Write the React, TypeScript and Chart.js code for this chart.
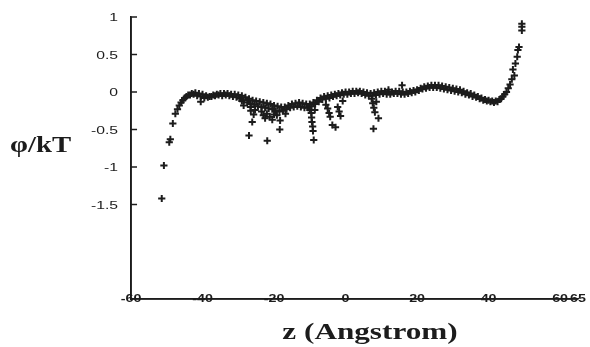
import React, { useEffect, useRef } from "react";
import { Chart, registerables } from "chart.js";

Chart.register(...registerables);

// Main band of potential values (z in Angstrom, phi/kT)
const bandUpper: [number, number][] = [
  [-51.4, -1.42], [-50.8, -0.98], [-49.3, -0.67], [-49.0, -0.63], [-48.3, -0.42], [-47.6, -0.29],
  [-47.0, -0.23], [-46.5, -0.18], [-46.0, -0.14], [-45.5, -0.11], [-45.0, -0.08], [-44.5, -0.06],
  [-44, -0.04], [-43, -0.02], [-42, -0.01], [-41, -0.02], [-40, -0.03], [-39, -0.05], [-38, -0.06],
  [-37, -0.04], [-36, -0.03], [-35, -0.02], [-34, -0.02], [-33, -0.02], [-32, -0.03], [-31, -0.03],
  [-30, -0.04], [-29, -0.05], [-28, -0.07], [-27, -0.09], [-26, -0.11], [-25, -0.12], [-24, -0.13],
  [-23, -0.14], [-22, -0.15], [-21, -0.16], [-20, -0.18], [-19, -0.19], [-18, -0.2], [-17, -0.2],
  [-16, -0.18], [-15, -0.16], [-14, -0.15], [-13, -0.14], [-12, -0.15], [-11, -0.16], [-10, -0.16],
  [-9, -0.14], [-8, -0.11], [-7, -0.08], [-6, -0.06], [-5, -0.05], [-4, -0.04], [-3, -0.03],
  [-2, -0.02], [-1, -0.01], [0, 0.0], [1, 0.0], [2, 0.01], [3, 0.01], [4, 0.01], [5, 0.0],
  [6, -0.01], [7, -0.02], [8, -0.01], [9, 0.0], [10, 0.01], [11, 0.01], [12, 0.0], [13, 0.0],
  [14, 0.01], [15, 0.01], [16, 0.0], [17, 0.0], [18, 0.01], [19, 0.02], [20, 0.03], [21, 0.05],
  [22, 0.07], [23, 0.08], [24, 0.09], [25, 0.09], [26, 0.09], [27, 0.08], [28, 0.07], [29, 0.06],
  [30, 0.05], [31, 0.04], [32, 0.03], [33, 0.01], [34, -0.01], [35, -0.02], [36, -0.04], [37, -0.06],
  [38, -0.08], [39, -0.1], [40, -0.11], [41, -0.12], [42, -0.12], [43, -0.1], [44, -0.06],
  [44.5, -0.03], [45, 0.0], [45.5, 0.05], [46, 0.1], [46.5, 0.17], [46.8, 0.3], [47.2, 0.22],
  [47.5, 0.38], [48, 0.47], [48.2, 0.56], [48.5, 0.6], [49.3, 0.82], [49.3, 0.87], [49.3, 0.91],
];

const bandLower: [number, number][] = [
  [-43.5, -0.04], [-42.5, -0.03], [-41.5, -0.05], [-40.5, -0.06], [-39.5, -0.08], [-38.5, -0.07],
  [-37.5, -0.06], [-36.5, -0.05], [-35.5, -0.04], [-34.5, -0.05], [-33.5, -0.04], [-32.5, -0.05],
  [-31.5, -0.06], [-30.5, -0.07], [-29.5, -0.09], [-28.5, -0.11], [-27.5, -0.14], [-26.5, -0.16],
  [-25.5, -0.17], [-24.5, -0.19], [-23.5, -0.2], [-22.5, -0.21], [-21.5, -0.22], [-20.5, -0.23],
  [-19.5, -0.25], [-18.5, -0.26], [-17.5, -0.25], [-16.5, -0.23], [-15.5, -0.21], [-14.5, -0.2],
  [-13.5, -0.19], [-12.5, -0.2], [-11.5, -0.21], [-10.5, -0.21], [-9.5, -0.19], [-8.5, -0.16],
  [-7.5, -0.13], [-6.5, -0.1], [-5.5, -0.09], [-4.5, -0.08], [-3.5, -0.06], [-2.5, -0.05],
  [-1.5, -0.04], [-0.5, -0.03], [0.5, -0.03], [1.5, -0.02], [2.5, -0.02], [3.5, -0.01],
  [4.5, -0.02], [5.5, -0.04], [6.5, -0.05], [7.5, -0.05], [8.5, -0.04], [9.5, -0.03],
  [10.5, -0.02], [11.5, -0.03], [12.5, -0.03], [13.5, -0.02], [14.5, -0.02], [15.5, -0.03],
  [16.5, -0.03], [17.5, -0.02], [18.5, -0.01], [19.5, 0.0], [20.5, 0.02], [21.5, 0.04],
  [22.5, 0.05], [23.5, 0.06], [24.5, 0.06], [25.5, 0.06], [26.5, 0.05], [27.5, 0.04],
  [28.5, 0.03], [29.5, 0.02], [30.5, 0.01], [31.5, 0.0], [32.5, -0.01], [33.5, -0.03],
  [34.5, -0.04], [35.5, -0.06], [36.5, -0.07], [37.5, -0.09], [38.5, -0.11], [39.5, -0.12],
  [40.5, -0.13], [41.5, -0.14], [42.5, -0.13], [43.5, -0.09],
];

const outliers: [number, number][] = [
  [-40.5, -0.13], [-29, -0.12], [-28.5, -0.18], [-27, -0.58], [-26.6, -0.2], [-26.5, -0.25],
  [-26.1, -0.4], [-25.7, -0.3], [-25.3, -0.24], [-23.5, -0.26], [-23, -0.31], [-22.5, -0.35],
  [-22, -0.29], [-21.9, -0.65], [-21.2, -0.33], [-20.5, -0.37], [-20, -0.3], [-19.2, -0.31],
  [-18.4, -0.5], [-18.3, -0.38], [-16.8, -0.29], [-10, -0.24], [-9.6, -0.28], [-9.5, -0.34],
  [-9.4, -0.4], [-9.2, -0.46], [-9.1, -0.52], [-8.9, -0.64], [-8.6, -0.24], [-5.5, -0.17],
  [-5, -0.22], [-4.6, -0.28], [-4.3, -0.33], [-3.7, -0.44], [-2.8, -0.47], [-2.2, -0.2],
  [-1.8, -0.26], [-1.4, -0.32], [-0.8, -0.12], [7.3, -0.09], [7.6, -0.15], [7.9, -0.21],
  [8.2, -0.27], [8.6, -0.13], [7.8, -0.49], [9.2, -0.35], [15.8, 0.09], [12, 0.03],
];

const xTicks = [-60, -40, -20, 0, 20, 40, 60, 65];
const yTicks = [1, 0.5, 0, -0.5, -1, -1.5];
const xMin = -60;
const xMax = 65;
const yMin = -2.76;
const yMax = 1;
const tickLen = 1.7; // inner y-axis tick length, in z units

const INK = "#1c1c1c";

function stretchedText(
  ctx: CanvasRenderingContext2D,
  text: string,
  x: number,
  y: number,
  font: string,
  align: CanvasTextAlign,
  baseline: CanvasTextBaseline,
  stretch: number
) {
  ctx.save();
  ctx.translate(x, y);
  ctx.scale(stretch, 1);
  ctx.font = font;
  ctx.textAlign = align;
  ctx.textBaseline = baseline;
  ctx.fillStyle = INK;
  ctx.fillText(text, 0, 0);
  ctx.restore();
}

const labelsPlugin = {
  id: "customLabels",
  afterDraw(chart: any) {
    const ctx: CanvasRenderingContext2D = chart.ctx;
    const xs = chart.scales.x;
    const ys = chart.scales.y;
    const left = chart.chartArea.left;
    const bottom = chart.chartArea.bottom;
    for (const t of yTicks) {
      const py = Math.round(ys.getPixelForValue(t));
      stretchedText(ctx, String(t), left - 13, py + 0.5, "11px 'Liberation Sans', Arial", "right", "middle", 1.43);
    }
    for (const t of xTicks) {
      const px = xs.getPixelForValue(t);
      stretchedText(ctx, String(t), px, bottom + 0.5, "bold 10px 'Liberation Sans', Arial", "center", "middle", 1.43);
    }
    stretchedText(ctx, "φ/kT", 10, 146, "bold 23px 'Liberation Serif', 'Times New Roman', serif", "left", "middle", 1.25);
    stretchedText(ctx, "z (Angstrom)", 370, 333, "bold 24px 'Liberation Serif', 'Times New Roman', serif", "center", "middle", 1.3);
  },
};

export default function App() {
  const canvasRef = useRef<HTMLCanvasElement | null>(null);

  useEffect(() => {
    const canvas = canvasRef.current;
    if (!canvas) return;
    const toPts = (arr: [number, number][]) => arr.map(([x, y]) => ({ x, y }));
    const style = {
      pointStyle: "cross" as const,
      pointRadius: 3.6,
      pointBorderWidth: 2,
      pointBorderColor: INK,
      pointBackgroundColor: INK,
      showLine: false,
    };
    const halfWidth = (c: any) => {
      const xs = c.chart.scales.x;
      return xs ? Math.abs(xs.getPixelForValue(xMax) - xs.getPixelForValue(xMin)) / 2 : 0;
    };
    const halfHeight = (c: any) => {
      const ys = c.chart.scales.y;
      return ys ? Math.abs(ys.getPixelForValue(yMin) - ys.getPixelForValue(yMax)) / 2 : 0;
    };
    const axisMark = {
      pointStyle: "line" as const,
      pointBorderColor: INK,
      pointBackgroundColor: INK,
      pointBorderWidth: 1.6,
      showLine: false,
      clip: false as const,
    };
    const axisCommon = {
      type: "linear" as const,
      grid: { display: false },
      ticks: { display: false },
      border: { display: true, color: INK, width: 1.6 },
    };
    const chart = new Chart(canvas, {
      type: "scatter",
      data: {
        datasets: [
          { ...axisMark, label: "x axis", data: [{ x: (xMin + xMax) / 2, y: yMin }], pointRotation: 0, pointRadius: halfWidth },
          { ...axisMark, label: "y axis", data: [{ x: xMin, y: (yMin + yMax) / 2 }], pointRotation: 90, pointRadius: halfHeight },
          {
            ...axisMark,
            label: "y ticks",
            data: yTicks.map((t) => ({ x: xMin + tickLen / 2, y: t })),
            pointRotation: 0,
            pointRadius: 3,
            pointBorderWidth: 1.5,
          },
          { label: "upper", data: toPts(bandUpper), ...style },
          { label: "lower", data: toPts(bandLower), ...style },
          { label: "outliers", data: toPts(outliers), ...style },
        ] as any,
      },
      options: {
        animation: false,
        responsive: false,
        maintainAspectRatio: false,
        layout: { padding: { left: 123, right: 12, top: 17, bottom: 40 } },
        plugins: { legend: { display: false }, tooltip: { enabled: false } },
        scales: {
          x: { ...axisCommon, min: xMin, max: xMax },
          y: { ...axisCommon, min: yMin, max: yMax },
        },
      },
      plugins: [labelsPlugin],
    });
    return () => chart.destroy();
  }, []);

  return (
    <canvas
      ref={canvasRef}
      width={590}
      height={347}
      style={{ position: "absolute", left: 0, top: 0, background: "#fff" }}
    />
  );
}
